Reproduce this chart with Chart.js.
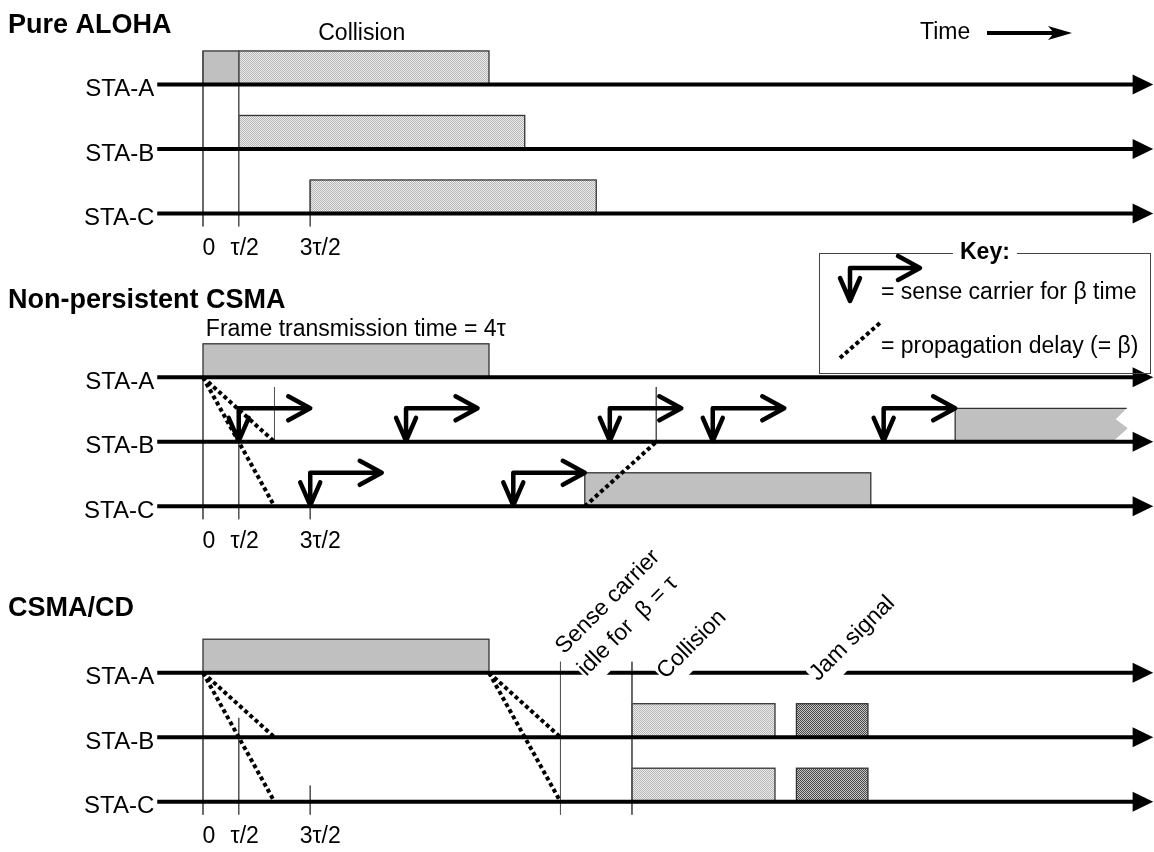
<!DOCTYPE html>
<html>
<head>
<meta charset="utf-8">
<script src="https://cdn.jsdelivr.net/npm/chart.js@4.4.1/dist/chart.umd.min.js"></script>
<style>
  html, body { margin: 0; padding: 0; background: #fff; }
  #c { display: block; }
</style>
</head>
<body>
<canvas id="c" width="1154" height="852"></canvas>
<script>
// ---- data (time in units of tau) ----
const sectionTitles = ['Pure ALOHA', 'Non-persistent CSMA', 'CSMA/CD'];
const stationNames = ['STA-A', 'STA-B', 'STA-C'];
const tickTimes = [0, 0.5, 1.5];
const tickLabels = ['0', 'τ/2', '3τ/2'];
const FRAME = 4; // frame transmission time

// Pure ALOHA: one frame per station, all collide
const alohaStart = [0, 0.5, 1.5];
const alohaCleanEnd = 0.5;

// Non-persistent CSMA
const csmaFrames = [[0, 0, 4], [2, 5.34, 9.34], [1, 10.52, 12.92]]; // [station, start, end]
const csmaSenseB = [0.5, 2.84, 5.69, 7.13, 9.52];
const csmaSenseC = [1.5, 4.34];
const csmaProp = [[0, 0, 1, 1], [0, 0, 1, 2], [5.34, 2, 6.34, 1]]; // [t0, sta0, t1, sta1]
const csmaMarks = [1, 6.34];

// CSMA/CD
const cdProp = [[0, 0, 1, 1], [0, 0, 1, 2], [4, 0, 5, 1], [4, 0, 5, 2]];
const cdMarks = [5, 6];
const cdCollision = [6, 8];
const cdJam = [8.3, 9.3];

// ---- layout ----
const X_MIN = -2.839, X_MAX = 13.301;
const Y_MIN = -1.31, Y_MAX = 11.899;
const rowBase = [0, 4.54, 9.12];     // lane of STA-A in each panel
const BAR_H = 0.52;
const AXIS_FROM = -0.64, AXIS_TO = 13.03, AXIS_TIP = 13.29;
const guideTop = [[-0.52, -0.52, 1.48], [0, 1, 2], [0, 0.7, 1.75]];
const GUIDE_BOTTOM = 2.2;
const FONT = '"Liberation Sans", Arial, sans-serif';

const canvas = document.getElementById('c');
const ctx0 = canvas.getContext('2d');

function checker(a, b) {
  const p = document.createElement('canvas');
  p.width = 2; p.height = 2;
  const g = p.getContext('2d');
  g.fillStyle = a; g.fillRect(0, 0, 2, 2);
  g.fillStyle = b; g.fillRect(0, 0, 1, 1); g.fillRect(1, 1, 1, 1);
  return ctx0.createPattern(p, 'repeat');
}
const SOLID = '#c0c0c0';
const HATCH = checker('#ececec', '#b6b6b6');
const JAM = checker('#c4c4c4', '#4a4a4a');

// frames to draw
const rects = [];
rects.push({ t0: alohaStart[0], t1: alohaCleanEnd, lane: rowBase[0], fill: SOLID });
rects.push({ t0: alohaCleanEnd, t1: alohaStart[0] + FRAME, lane: rowBase[0], fill: HATCH });
for (let s = 1; s < 3; s++) {
  rects.push({ t0: alohaStart[s], t1: alohaStart[s] + FRAME, lane: rowBase[0] + s, fill: HATCH });
}
csmaFrames.forEach(([s, a, b], i) => {
  rects.push({ t0: a, t1: b, lane: rowBase[1] + s, fill: SOLID, torn: i === 2 });
});
rects.push({ t0: 0, t1: FRAME, lane: rowBase[2], fill: SOLID });
for (let s = 1; s < 3; s++) {
  rects.push({ t0: cdCollision[0], t1: cdCollision[1], lane: rowBase[2] + s, fill: HATCH });
  rects.push({ t0: cdJam[0], t1: cdJam[1], lane: rowBase[2] + s, fill: JAM });
}

// ---- line datasets ----
const datasets = [];
function seg(x0, y0, x1, y1, opts) {
  datasets.push(Object.assign({
    data: [{ x: x0, y: y0 }, { x: x1, y: y1 }],
    showLine: true, pointRadius: 0, fill: false, tension: 0,
  }, opts));
}
const guideStyle = { borderColor: '#555', borderWidth: 1, order: 3 };
const axisStyle = { borderColor: '#000', borderWidth: 4, order: 2 };
const dotStyle = { borderColor: '#000', borderWidth: 4, borderDash: [4, 3], borderCapStyle: 'butt', order: 1 };

rowBase.forEach((base, p) => {
  tickTimes.forEach((t, i) => seg(t, base + guideTop[p][i], t, base + GUIDE_BOTTOM, guideStyle));
  stationNames.forEach((_, s) => seg(AXIS_FROM, base + s, AXIS_TO, base + s, axisStyle));
});
csmaMarks.forEach(t => seg(t, rowBase[1] + 0.15, t, rowBase[1] + 1, guideStyle));
cdMarks.forEach(t => seg(t, rowBase[2] - 0.17, t, rowBase[2] + GUIDE_BOTTOM, guideStyle));
csmaProp.forEach(([t0, s0, t1, s1]) => seg(t0, rowBase[1] + s0, t1, rowBase[1] + s1, dotStyle));
cdProp.forEach(([t0, s0, t1, s1]) => seg(t0, rowBase[2] + s0, t1, rowBase[2] + s1, dotStyle));

// ---- drawing helpers ----
function senseArrow(ctx, x0, x1, yTop, yTip) {
  ctx.save();
  ctx.strokeStyle = '#000';
  ctx.lineWidth = 4.5;
  ctx.lineCap = 'round';
  ctx.lineJoin = 'round';
  ctx.beginPath();
  ctx.moveTo(x1 - 2, yTop); ctx.lineTo(x0, yTop); ctx.lineTo(x0, yTip - 1);
  ctx.moveTo(x0 - 10, yTip - 24); ctx.lineTo(x0, yTip - 1); ctx.lineTo(x0 + 10, yTip - 24);
  ctx.moveTo(x1 - 22, yTop - 12); ctx.lineTo(x1, yTop); ctx.lineTo(x1 - 22, yTop + 12);
  ctx.stroke();
  ctx.restore();
}

function text(ctx, s, x, y, font, align) {
  ctx.font = font;
  ctx.fillStyle = '#000';
  ctx.textAlign = align || 'left';
  ctx.textBaseline = 'middle';
  ctx.fillText(s, x, y);
}

function slanted(ctx, s, x, y) {
  ctx.save();
  ctx.translate(x, y);
  ctx.rotate(-Math.PI / 4);
  ctx.font = '23px ' + FONT;
  const w = ctx.measureText(s).width;
  ctx.fillStyle = '#fff';
  ctx.fillRect(-1, -16, w + 2, 29);
  ctx.fillStyle = '#000';
  ctx.textAlign = 'left';
  ctx.textBaseline = 'alphabetic';
  ctx.fillText(s, 0, 0);
  ctx.restore();
}

const framesPlugin = {
  id: 'frames',
  beforeDatasetsDraw(chart) {
    const { ctx } = chart;
    const X = v => chart.scales.x.getPixelForValue(v);
    const Y = v => chart.scales.y.getPixelForValue(v);
    ctx.save();
    ctx.strokeStyle = '#333';
    ctx.lineWidth = 1.3;
    rects.forEach(r => {
      const x0 = X(r.t0), x1 = X(r.t1), yb = Y(r.lane), yt = Y(r.lane - BAR_H);
      ctx.fillStyle = r.fill;
      if (r.torn) {
        ctx.beginPath();
        ctx.moveTo(x0, yb); ctx.lineTo(x0, yt); ctx.lineTo(x1, yt);
        ctx.lineTo(x1 - 11, yt + 11); ctx.lineTo(x1 + 1, yt + 20); ctx.lineTo(x1 - 14, yb);
        ctx.closePath();
        ctx.fill();
        ctx.beginPath();
        ctx.moveTo(x0, yb); ctx.lineTo(x0, yt); ctx.lineTo(x1, yt);
        ctx.stroke();
      } else {
        ctx.fillRect(x0, yt, x1 - x0, yb - yt);
        ctx.strokeRect(x0, yt, x1 - x0, yb - yt);
      }
    });
    ctx.restore();
  },
};

const overlayPlugin = {
  id: 'overlay',
  afterDatasetsDraw(chart) {
    const { ctx } = chart;
    const X = v => chart.scales.x.getPixelForValue(v);
    const Y = v => chart.scales.y.getPixelForValue(v);
    ctx.save();

    // arrowheads on the station time lines
    ctx.fillStyle = '#000';
    rowBase.forEach(base => stationNames.forEach((_, s) => {
      const y = Y(base + s);
      ctx.beginPath();
      ctx.moveTo(X(AXIS_TO) - 2, y - 10);
      ctx.lineTo(X(AXIS_TIP), y);
      ctx.lineTo(X(AXIS_TO) - 2, y + 10);
      ctx.closePath();
      ctx.fill();
    }));

    // carrier sensing
    csmaSenseB.forEach(t => senseArrow(ctx, X(t), X(t + 1), Y(rowBase[1] + 1 - BAR_H), Y(rowBase[1] + 1)));
    csmaSenseC.forEach(t => senseArrow(ctx, X(t), X(t + 1), Y(rowBase[1] + 2 - BAR_H), Y(rowBase[1] + 2)));

    // titles, station names, tick labels
    rowBase.forEach((base, p) => {
      const titleY = [26, 301, 609][p];
      text(ctx, sectionTitles[p], 8, titleY, 'bold 27px ' + FONT);
      stationNames.forEach((n, s) => text(ctx, n, X(AXIS_FROM) - 3, Y(base + s) + 5, '24px ' + FONT, 'right'));
      tickTimes.forEach((t, i) => text(ctx, tickLabels[i], X(t) + (i === 2 ? 10 : 6), Y(base + 2) + 35, '23px ' + FONT, 'center'));
    });

    text(ctx, 'Collision', X(2.22), 34, '23px ' + FONT, 'center');
    text(ctx, 'Frame transmission time = 4τ', X(0.04), 330, '23px ' + FONT);

    // time arrow
    text(ctx, 'Time', 920, 33, '23px ' + FONT);
    ctx.strokeStyle = '#000';
    ctx.lineWidth = 4;
    ctx.beginPath(); ctx.moveTo(987, 33); ctx.lineTo(1056, 33); ctx.stroke();
    ctx.beginPath();
    ctx.moveTo(1072, 33); ctx.lineTo(1048, 26); ctx.lineTo(1054, 33); ctx.lineTo(1048, 40);
    ctx.closePath(); ctx.fill();

    // CSMA/CD slanted notes
    const a = rowBase[2];
    slanted(ctx, 'Sense carrier', X(5.05), Y(a) - 18);
    slanted(ctx, 'idle for  β = τ', X(5.36), Y(a) + 4);
    slanted(ctx, 'Collision', X(6.47), Y(a) + 7);
    slanted(ctx, 'Jam signal', X(8.6), Y(a) + 9);

    // key
    ctx.strokeStyle = '#444';
    ctx.lineWidth = 1;
    ctx.strokeRect(819.5, 253.5, 331, 120);
    ctx.font = 'bold 23px ' + FONT;
    const kw = ctx.measureText('Key:').width;
    ctx.fillStyle = '#fff';
    ctx.fillRect(953, 245, kw + 14, 16);
    text(ctx, 'Key:', 960, 253, 'bold 23px ' + FONT);
    senseArrow(ctx, 850, 920, 268, 302);
    text(ctx, '= sense carrier for β time', 881, 293, '23px ' + FONT);
    ctx.strokeStyle = '#000';
    ctx.lineWidth = 4;
    ctx.setLineDash([4, 3]);
    ctx.beginPath(); ctx.moveTo(840, 358); ctx.lineTo(881, 322); ctx.stroke();
    ctx.setLineDash([]);
    text(ctx, '= propagation delay (= β)', 881, 347, '23px ' + FONT);

    ctx.restore();
  },
};

new Chart(canvas, {
  type: 'scatter',
  data: { datasets },
  options: {
    responsive: false,
    animation: false,
    events: [],
    layout: { padding: 0 },
    plugins: { legend: { display: false }, tooltip: { enabled: false } },
    scales: {
      x: { type: 'linear', display: false, min: X_MIN, max: X_MAX },
      y: { type: 'linear', display: false, min: Y_MIN, max: Y_MAX, reverse: true },
    },
  },
  plugins: [framesPlugin, overlayPlugin],
});
</script>
</body>
</html>
